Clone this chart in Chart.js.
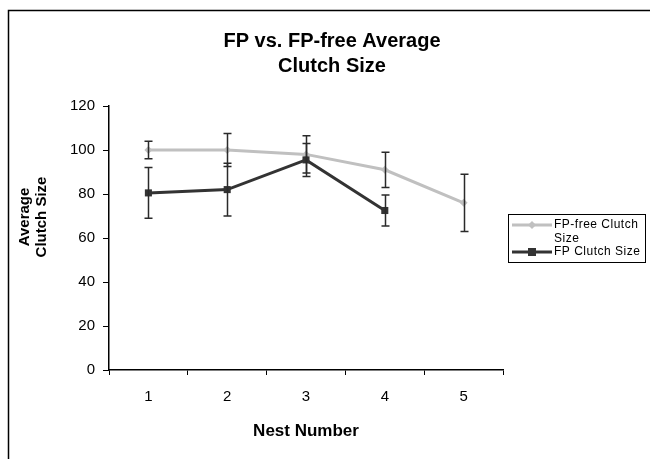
<!DOCTYPE html>
<html lang="en">
<head>
<meta charset="UTF-8">
<title>FP vs. FP-free Average Clutch Size</title>
<script src="https://cdn.jsdelivr.net/npm/chart.js"></script>
<style>
  html, body { margin: 0; padding: 0; background: #fff; }
  #wrap { width: 650px; height: 459px; }
</style>
</head>
<body>
<div id="wrap"><canvas id="clutchChart" width="650" height="459"></canvas></div>
<script>
// data
var nests = ['1', '2', '3', '4', '5'];
var fpFreeClutch = [100, 100, 98, 91, 76];
var fpFreeErr = [4, 7.5, 8.5, 8, 13];
var fpClutch = [80.5, 82, 95.5, 72.5, null];
var fpErr = [11.5, 12, 7.5, 7, null];
var yTicks = [0, 20, 40, 60, 80, 100, 120];
var yTitle = ['Average', 'Clutch Size'];

var FONT = "'Liberation Sans', Arial, sans-serif";
var GRAY = '#c0c0c0';
var DARK = '#333333';

// error bars, drawn through the scales
var errorBars = {
    id: 'errorBars',
    afterDatasetsDraw: function (chart) {
        var ctx = chart.ctx;
        var y = chart.scales.y;
        var errs = [fpFreeErr, fpErr];
        ctx.save();
        ctx.strokeStyle = '#2a2a2a';
        ctx.lineWidth = 1.5;
        chart.data.datasets.forEach(function (ds, i) {
            var meta = chart.getDatasetMeta(i);
            meta.data.forEach(function (pt, j) {
                var v = ds.data[j], e = errs[i][j];
                if (v == null || e == null) return;
                var x = Math.round(pt.x) + 0.5;
                var top = y.getPixelForValue(v + e);
                var bot = y.getPixelForValue(v - e);
                ctx.beginPath();
                ctx.moveTo(x, top); ctx.lineTo(x, bot);
                ctx.moveTo(x - 4, top); ctx.lineTo(x + 4, top);
                ctx.moveTo(x - 4, bot); ctx.lineTo(x + 4, bot);
                ctx.stroke();
            });
        });
        ctx.restore();
    }
};

// outer frame, y title (sits higher than the axis middle) and boxed legend
var frameAndLegend = {
    id: 'frameAndLegend',
    afterDraw: function (chart) {
        var ctx = chart.ctx;
        ctx.save();
        ctx.strokeStyle = '#000';
        ctx.lineWidth = 1.5;
        ctx.beginPath();
        ctx.moveTo(8.5, 470); ctx.lineTo(8.5, 10.5); ctx.lineTo(660, 10.5);
        ctx.stroke();

        // y axis title
        ctx.save();
        ctx.translate(33, 217);
        ctx.rotate(-Math.PI / 2);
        ctx.font = 'bold 15px ' + FONT;
        ctx.fillStyle = '#000';
        ctx.textAlign = 'center';
        ctx.textBaseline = 'middle';
        ctx.fillText(yTitle[0], 0, -8.5);
        ctx.fillText(yTitle[1], 0, 8.5);
        ctx.restore();

        ctx.lineWidth = 1;
        ctx.strokeRect(508.5, 214.5, 137, 48);

        ctx.font = '12px ' + FONT;
        ctx.letterSpacing = '0.5px';
        ctx.fillStyle = '#000';
        ctx.textBaseline = 'middle';

        // FP-free entry
        ctx.strokeStyle = GRAY;
        ctx.lineWidth = 3;
        ctx.beginPath(); ctx.moveTo(512, 225); ctx.lineTo(552, 225); ctx.stroke();
        ctx.fillStyle = GRAY;
        ctx.beginPath();
        ctx.moveTo(532, 221); ctx.lineTo(536, 225); ctx.lineTo(532, 229); ctx.lineTo(528, 225);
        ctx.closePath(); ctx.fill();
        ctx.fillStyle = '#000';
        ctx.fillText('FP-free Clutch', 554, 225);
        ctx.fillText('Size', 554, 239);

        // FP entry
        ctx.strokeStyle = DARK;
        ctx.beginPath(); ctx.moveTo(512, 252); ctx.lineTo(552, 252); ctx.stroke();
        ctx.fillStyle = DARK;
        ctx.fillRect(528, 248, 8, 8);
        ctx.fillStyle = '#000';
        ctx.fillText(chart.data.datasets[1].label, 554, 252);
        ctx.restore();
    }
};

var ctx = document.getElementById('clutchChart').getContext('2d');
var clutchChart = new Chart(ctx, {
    type: 'line',
    data: {
        labels: nests,
        datasets: [{
            label: 'FP-free Clutch Size',
            data: fpFreeClutch,
            borderColor: GRAY,
            backgroundColor: GRAY,
            borderWidth: 3,
            pointStyle: 'rectRot',
            pointRadius: 4,
            pointBorderWidth: 0,
            tension: 0,
            order: 1
        }, {
            label: 'FP Clutch Size',
            data: fpClutch,
            borderColor: DARK,
            backgroundColor: DARK,
            borderWidth: 3,
            pointStyle: 'rect',
            pointRadius: 5,
            pointBorderWidth: 0,
            tension: 0,
            order: 0
        }]
    },
    options: {
        responsive: false,
        animation: false,
        events: [],
        layout: { padding: { left: 14, right: 0, top: 0, bottom: 0 } },
        plugins: {
            legend: { display: false },
            tooltip: { enabled: false },
            title: {
                display: true,
                text: ['FP vs. FP-free Average', 'Clutch Size'],
                color: '#000',
                font: { family: FONT, size: 20, weight: 'bold', lineHeight: 1.25 },
                padding: { top: 29, bottom: 27 }
            }
        },
        scales: {
            x: {
                offset: true,
                grid: {
                    offset: true,
                    drawOnChartArea: false,
                    drawTicks: true,
                    tickLength: 5,
                    color: '#000'
                },
                border: { display: true, color: '#000', width: 1.5 },
                ticks: {
                    color: '#000',
                    padding: 13,
                    font: { family: FONT, size: 15 }
                },
                title: {
                    display: true,
                    text: 'Nest Number',
                    color: '#000',
                    font: { family: FONT, size: 17, weight: 'bold' },
                    padding: { top: 4, bottom: 17 }
                },
                afterFit: function (s) { s.height = 89; }
            },
            y: {
                min: 0,
                max: 120,
                afterBuildTicks: function (s) {
                    s.ticks = yTicks.map(function (v) { return { value: v }; });
                },
                grid: {
                    drawOnChartArea: false,
                    drawTicks: true,
                    tickLength: 6,
                    color: '#000'
                },
                border: { display: true, color: '#000', width: 1.5 },
                ticks: {
                    color: '#000',
                    padding: 8,
                    font: { family: FONT, size: 15 }
                },
                afterFit: function (s) { s.width = 95; }
            },
            yRight: {
                position: 'right',
                display: true,
                grid: { display: false },
                border: { display: false },
                ticks: { display: false },
                afterFit: function (s) { s.width = 147; }
            }
        }
    },
    plugins: [errorBars, frameAndLegend]
});
</script>
</body>
</html>
